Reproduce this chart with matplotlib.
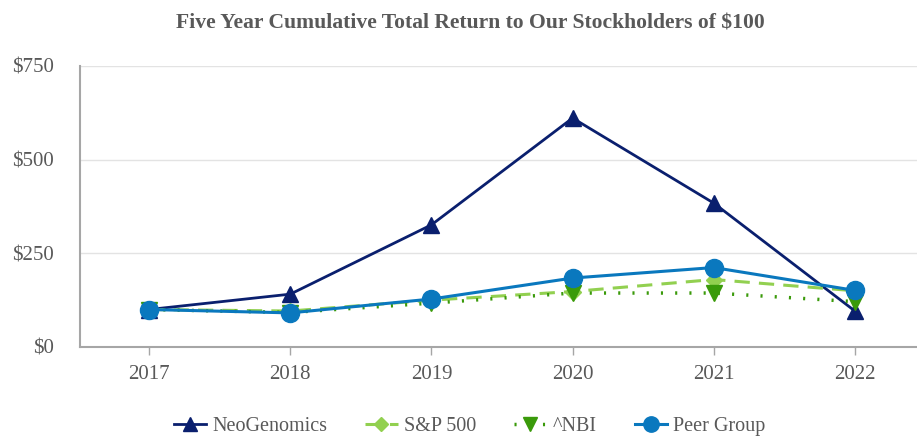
import matplotlib.pyplot as plt
import matplotlib as mpl

mpl.rcParams['font.family'] = 'Liberation Serif'

years = [2017, 2018, 2019, 2020, 2021, 2022]
neogenomics = [100, 141, 326, 611, 384, 96]
sp500 = [100, 96, 125, 148, 180, 150]
nbi = [100, 92, 117, 144, 144, 121]
peer_group = [100, 91, 128, 184, 212, 151]

yticks = [0, 250, 500, 750]
ytick_labels = ['$0', '$250', '$500', '$750']

text_gray = '#595959'
axis_gray = '#a6a6a6'

fig = plt.figure(figsize=(9.17, 4.37), dpi=100)
ax = fig.add_axes([0.0872, 0.206, 0.9128, 0.643])

ax.plot(years, neogenomics, color='#0a1f6e', lw=2, marker='^', ms=12, label='NeoGenomics')
ax.plot(years, sp500, color='#92d050', lw=2.2, ls=(0, (5, 3)), marker='D', ms=8, label='S&P 500')
ax.plot(years, nbi, color='#3a9a0a', lw=2.5, ls=(0, (0.6, 3.5)), marker='v', ms=12, label='^NBI')
ax.plot(years, peer_group, color='#0a78be', lw=2.2, marker='o', ms=13, label='Peer Group')

ax.set_xlim(2016.51, 2022.44)
ax.set_ylim(0, 750)
ax.set_xticks(years)
ax.set_yticks(yticks)
ax.set_yticklabels(ytick_labels)
ax.grid(axis='y', color='#e3e3e3', lw=1)
ax.set_axisbelow(True)

for side in ['top', 'right']:
    ax.spines[side].set_visible(False)
for side in ['left', 'bottom']:
    ax.spines[side].set_color(axis_gray)
    ax.spines[side].set_linewidth(1.5)

ax.tick_params(axis='x', colors=axis_gray, labelcolor=text_gray, labelsize=15, length=6, width=1, pad=7)
ax.tick_params(axis='y', length=0, labelcolor=text_gray, labelsize=15, pad=19)

fig.suptitle('Five Year Cumulative Total Return to Our Stockholders of $100',
             x=0.513, y=0.97, fontsize=15.6, fontweight='bold', color=text_gray)

fig.legend(loc='center', bbox_to_anchor=(0.512, 0.025), ncol=4, frameon=False,
           fontsize=14.5, handlelength=1.6, columnspacing=1.9, handletextpad=0.3,
           markerscale=0.85, labelcolor=text_gray)

fig.savefig('out.png', dpi=100)
